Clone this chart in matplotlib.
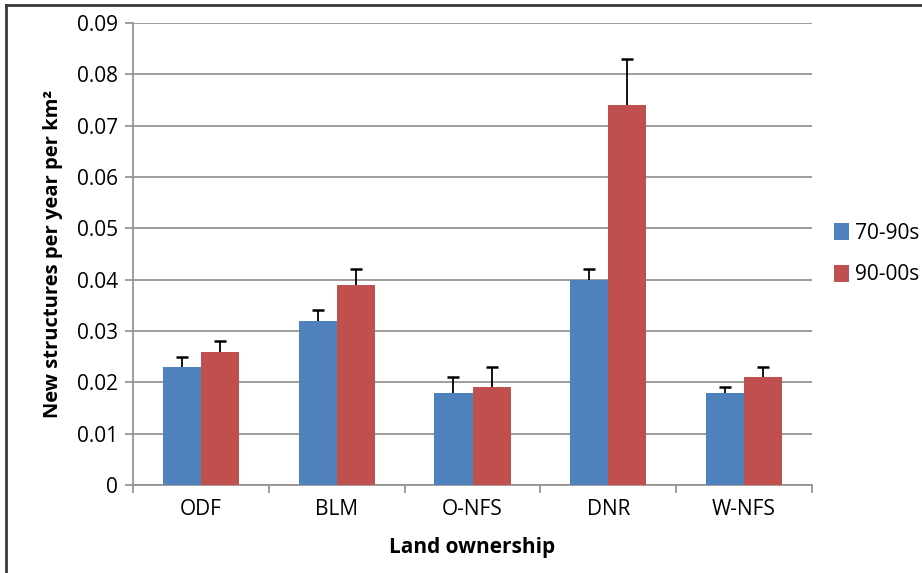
import matplotlib.pyplot as plt
import numpy as np
from matplotlib.lines import Line2D

categories = ["ODF", "BLM", "O-NFS", "DNR", "W-NFS"]
series_names = ["70-90s", "90-00s"]
vals_7090 = [0.023, 0.032, 0.018, 0.040, 0.018]
err_7090 = [0.002, 0.002, 0.003, 0.002, 0.001]
vals_9000 = [0.026, 0.039, 0.019, 0.074, 0.021]
err_9000 = [0.002, 0.003, 0.004, 0.009, 0.002]
yticks = [0, 0.01, 0.02, 0.03, 0.04, 0.05, 0.06, 0.07, 0.08, 0.09]
ytick_labels = ["0", "0.01", "0.02", "0.03", "0.04", "0.05", "0.06", "0.07", "0.08", "0.09"]

plt.rcParams["font.family"] = ["Liberation Sans Narrow", "Open Sans", "DejaVu Sans"]

blue = "#4F81BD"
red = "#C0504D"
grid_col = "#9a9490"

fig = plt.figure(figsize=(9.22, 5.73), dpi=100)
ax = fig.add_axes([133 / 922, 1 - 485 / 573, (812 - 133) / 922, (485 - 23) / 573])

x = np.arange(len(categories))
w = 0.28
ax.bar(x - w / 2, vals_7090, w, color=blue, label=series_names[0], zorder=3)
ax.bar(x + w / 2, vals_9000, w, color=red, label=series_names[1], zorder=3)

# upper-only error bars with a cap on the top end
for xs, v, e in [(x - w / 2, vals_7090, err_7090), (x + w / 2, vals_9000, err_9000)]:
    top = np.array(v) + np.array(e)
    ax.vlines(xs, v, top, color="black", linewidth=1.3, zorder=4)
    ax.plot(xs, top, linestyle="none", marker="_", markersize=9,
            markeredgewidth=1.8, color="black", zorder=4)

ax.set_xlim(-0.5, len(categories) - 0.5)
ax.set_ylim(0, 0.09)
ax.set_yticks(yticks)
ax.set_yticklabels(ytick_labels, fontsize=15)
ax.yaxis.grid(True, color=grid_col, linewidth=1.3, zorder=0)
ax.set_axisbelow(True)

ax.set_xticks(x)
ax.set_xticklabels(categories, fontsize=15)
ax.tick_params(axis="x", length=0, pad=10)
ax.set_xticks(np.arange(-0.5, len(categories)), minor=True)
ax.tick_params(axis="x", which="minor", length=6, color=grid_col, width=1.3)
ax.tick_params(axis="y", length=6, color=grid_col, width=1.3, pad=5)

for s in ["top", "right"]:
    ax.spines[s].set_visible(False)
for s in ["left", "bottom"]:
    ax.spines[s].set_color(grid_col)
    ax.spines[s].set_linewidth(1.3)

ax.set_xlabel("Land ownership", fontsize=15, fontweight="bold",
              family=["Open Sans", "DejaVu Sans"], labelpad=12)
ax.set_ylabel("New structures per year per km²", fontsize=14.5, fontweight="bold",
              family=["Open Sans", "DejaVu Sans"], labelpad=10)

ax.legend(loc="center left", bbox_to_anchor=(1.005, 0.5), frameon=False, fontsize=15,
          handlelength=0.7, handleheight=0.9, handletextpad=0.3, labelspacing=1.0)

# frame border on top and left of the image
fig.add_artist(Line2D([6 / 922, 6 / 922], [0, 1 - 5 / 573], color="#3a3a3a", linewidth=2))
fig.add_artist(Line2D([6 / 922, 1], [1 - 5 / 573, 1 - 5 / 573], color="#3a3a3a", linewidth=2))

fig.savefig("out.png", dpi=100)
